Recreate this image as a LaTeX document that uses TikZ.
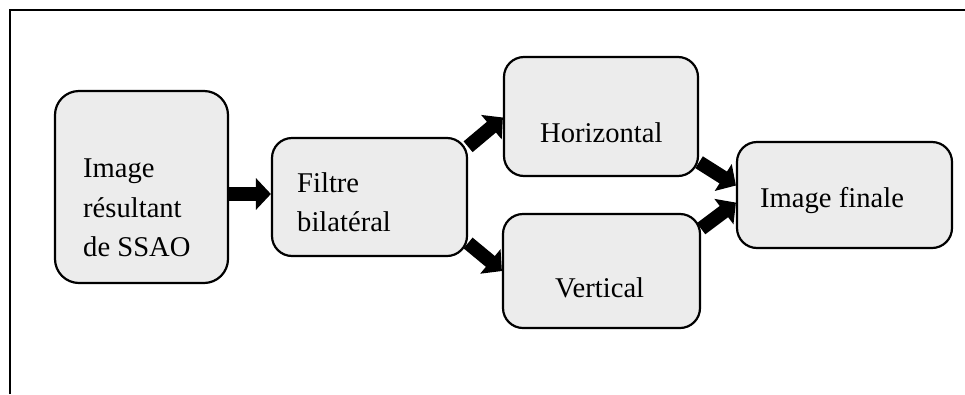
\documentclass[tikz,border=0pt]{standalone}
\usepackage{fontspec}
\setmainfont{Liberation Serif}
\usetikzlibrary{arrows.meta,calc,backgrounds}
\definecolor{boxgray}{RGB}{236,236,236}
\begin{document}
\begin{tikzpicture}[x=1pt,y=-1pt,
  stagebox/.style={draw=black, line width=2.2pt, fill=boxgray,
    rounded corners=20pt, inner sep=0pt},
  label/.style={inner sep=0pt, anchor=base west,
    font=\fontsize{28.6pt}{34pt}\selectfont},
  flow/.style={line width=14pt, draw=black,
    -{Triangle[width=31pt,length=15pt]}}]
  \useasboundingbox (0,0) rectangle (965,394);

  % outer frame (top and left edges)
  \draw[line width=1.8pt] (10,394) -- (10,10) -- (965,10);

  % processing stages
  \node[stagebox, rounded corners=24pt, minimum width=173pt, minimum height=192pt] (img) at (141.5,187) {};
  \node[stagebox, minimum width=195pt, minimum height=118pt] (filt) at (369.5,197) {};
  \node[stagebox, minimum width=194pt, minimum height=119pt] (horiz) at (601,116.5) {};
  \node[stagebox, minimum width=197pt, minimum height=114pt] (vert) at (601.5,271) {};
  \node[stagebox, minimum width=215pt, minimum height=106pt] (final) at (844.5,195) {};

  % stage labels
  \node[label] (imgA) at (83,177) {Image};
  \node[label] (imgB) at (83,217) {résultant};
  \node[label] (imgC) at (83,256) {de SSAO};
  \node[label] (filtA) at (297,192) {Filtre};
  \node[label] (filtB) at (297,231) {bilatéral};
  \node[label] (horizT) at (540,142) {Horizontal};
  \node[label] (vertT) at (555,297) {Vertical};
  \node[label] (finalT) at (760,207) {Image finale};

  % block arrows between stages
  \begin{pgfonlayer}{background}
    \draw[flow] ($(img.east)+(-6,7)$) -- ($(filt.west)+(0,-3)$);
    \draw[flow] (filt.27) -- ($(horiz.west)+(0,1)$);
    \draw[flow] (filt.-25) -- (vert.west);
    \draw[flow] (horiz.-25) -- (final.175);
    \draw[flow] (vert.23) -- (final.184);
  \end{pgfonlayer}
\end{tikzpicture}
\end{document}
